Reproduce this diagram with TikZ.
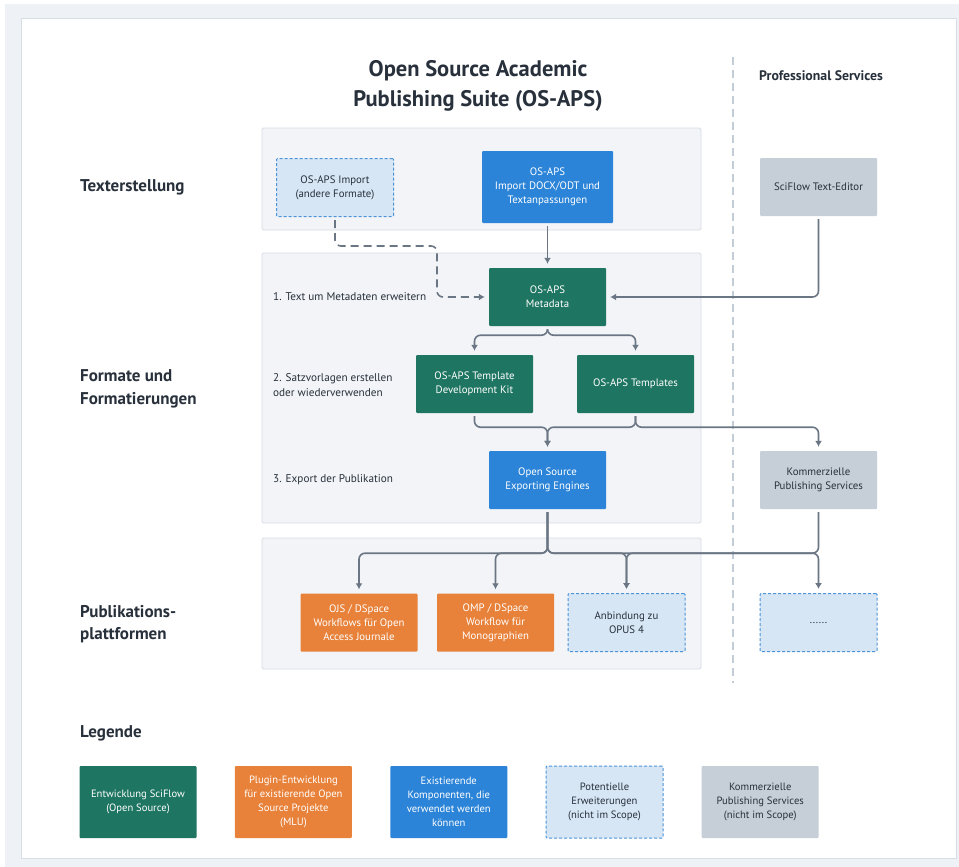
\documentclass[tikz,border=0pt]{standalone}
\usepackage{fontspec}
\setmainfont{PT Sans}
\usetikzlibrary{arrows.meta}
\usetikzlibrary{calc}
\usetikzlibrary{positioning}

\definecolor{osgreen}{HTML}{1E7561}
\definecolor{osorange}{HTML}{E8823A}
\definecolor{osblue}{HTML}{2B84D8}
\definecolor{ospot}{HTML}{D7E6F5}
\definecolor{ospotline}{HTML}{4C93D8}
\definecolor{osgrey}{HTML}{C6CFD8}
\definecolor{osline}{HTML}{6A7684}
\definecolor{ostext}{HTML}{27303B}
\definecolor{ossect}{HTML}{F2F4F7}
\definecolor{ossectline}{HTML}{D6DDE5}
\definecolor{osback}{HTML}{EEF2F6}
\definecolor{osdivide}{HTML}{C3CDD8}

\begin{document}
\begin{tikzpicture}[
  x=1pt, y=-1pt,
  > = {Latex[length=6pt,width=7pt]},
  every node/.style = {text=ostext},
  box/.style = {rectangle, rounded corners=1pt, minimum width=117pt, minimum height=58pt, align=center, inner sep=2pt, font=\fontsize{10.8}{14}\selectfont},
  devbox/.style = {box, fill=osgreen, text=white},
  pluginbox/.style = {box, fill=osorange, text=white},
  existbox/.style = {box, fill=osblue, text=white},
  potbox/.style = {box, fill=ospot, draw=ospotline, line width=1pt, dash pattern=on 3pt off 2pt},
  probox/.style = {box, fill=osgrey},
  legbox/.style = {minimum height=72pt, font=\fontsize{10.6}{14}\selectfont},
  section/.style = {fill=ossect, draw=ossectline, line width=0.8pt, rounded corners=1.5pt},
  heading/.style = {anchor=west, align=left, inner sep=0pt, font=\bfseries\fontsize{17}{22.5}\selectfont},
  steplabel/.style = {anchor=west, align=left, inner sep=0pt, font=\fontsize{11.2}{14.5}\selectfont},
  flow/.style = {->, draw=osline, line width=1.6pt, rounded corners=6pt, shorten <=3pt, shorten >=4pt},
  flowdash/.style = {flow, dash pattern=on 8pt off 5pt}
  ]
  \useasboundingbox (0,0) rectangle (959,867);

  % background and panels
  \fill[osback] (5,4) rectangle (959,867);
  \filldraw[fill=white, draw=ossectline, line width=0.8pt] (21,18) rectangle (956,858);
  \draw[osdivide, line width=1.6pt, dash pattern=on 8pt off 5pt] (733,57) -- (733,683);
  \path[section] (262,128) rectangle (701,230);
  \path[section] (262,253) rectangle (701,523);
  \path[section] (262,538) rectangle (701,669);

  % titles
  \node[align=center, font=\bfseries\fontsize{22.5}{30}\selectfont] (title) at (478,86) {Open Source Academic\\Publishing Suite (OS-APS)};
  \node[font=\bfseries\fontsize{13.8}{14}\selectfont] (pro) at (821,76) {Professional Services};

  \node[heading] (hText) at (80,187) {Texterstellung};
  \node[heading] (hFormat) at (80,389) {Formate und\\Formatierungen};
  \node[heading] (hPlatform) at (80,624) {Publikations-\\plattformen};
  \node[heading] (hLegend) at (80,733) {Legende};

  \node[steplabel] (step1) at (273,297) {1. Text um Metadaten erweitern};
  \node[steplabel] (step2) at (273,385) {2. Satzvorlagen erstellen\\oder wiederverwenden};
  \node[steplabel] (step3) at (273,480) {3. Export der Publikation};

  % components
  \node[potbox] (imp) at (335,187.5) {OS-APS Import\\(andere Formate)};
  \node[existbox, minimum width=131pt, minimum height=72pt] (docx) at (547.5,187) {OS-APS\\Import DOCX/ODT und\\Textanpassungen};
  \node[probox] (editor) at (818.5,187) {SciFlow Text-Editor};
  \node[devbox] (meta) at (547.5,297) {OS-APS\\Metadata};
  \node[devbox] (tdk) at (474.5,384) {OS-APS Template\\Development Kit};
  \node[devbox] (tpl) at (635.5,384) {OS-APS Templates};
  \node[existbox] (export) at (547.5,480) {Open Source\\Exporting Engines};
  \node[probox] (komm) at (818.5,480) {Kommerzielle\\Publishing Services};
  \node[pluginbox] (ojs) at (359,622.5) {OJS / DSpace\\Workflows für Open\\Access Journale};
  \node[pluginbox] (omp) at (495.5,622.5) {OMP / DSpace\\Workflow für\\Monographien};
  \node[potbox] (opus) at (626.5,622.5) {Anbindung zu\\OPUS 4};
  \node[potbox] (more) at (818.5,622.5) {......};

  % connectors
  \coordinate (dashbend) at (437,246);
  \draw[flowdash] (imp.south) |- (dashbend) |- (meta.west);
  \draw[flow] (docx.south) -- (meta.north);
  \draw[flow] (editor.south) |- (meta.east);
  \draw[flow] (meta.south) -- ++(0,9) -| (tdk.north);
  \draw[flow] (meta.south) -- ++(0,9) -| (tpl.north);
  \draw[flow] (tdk.south) -- ++(0,14) -| (export.north);
  \draw[flow] (tpl.south) -- ++(0,14) -| (export.north);
  \draw[flow] (tpl.south) -- ++(0,14) -| (komm.north);
  \draw[flow] (export.south) -- ++(0,44) -| (ojs.north);
  \draw[flow] (export.south) -- ++(0,44) -| (omp.north);
  \draw[flow] (export.south) -- ++(0,44) -| (opus.north);
  \draw[flow] (export.south) -- ++(0,44) -| (more.north);
  \draw[flow] (komm.south) -- ++(0,44) -| (opus.north);

  % legend
  \node[devbox, legbox] (leg1) at (138,802) {Entwicklung SciFlow\\(Open Source)};
  \node[pluginbox, legbox, right=38pt of leg1] (leg2) {Plugin-Entwicklung\\für existierende Open\\Source Projekte\\(MLU)};
  \node[existbox, legbox, right=38pt of leg2] (leg3) {Existierende\\Komponenten, die\\verwendet werden\\können};
  \node[potbox, legbox, right=38pt of leg3] (leg4) {Potentielle\\Erweiterungen\\(nicht im Scope)};
  \node[probox, legbox, right=38pt of leg4] (leg5) {Kommerzielle\\Publishing Services\\(nicht im Scope)};
\end{tikzpicture}
\end{document}
